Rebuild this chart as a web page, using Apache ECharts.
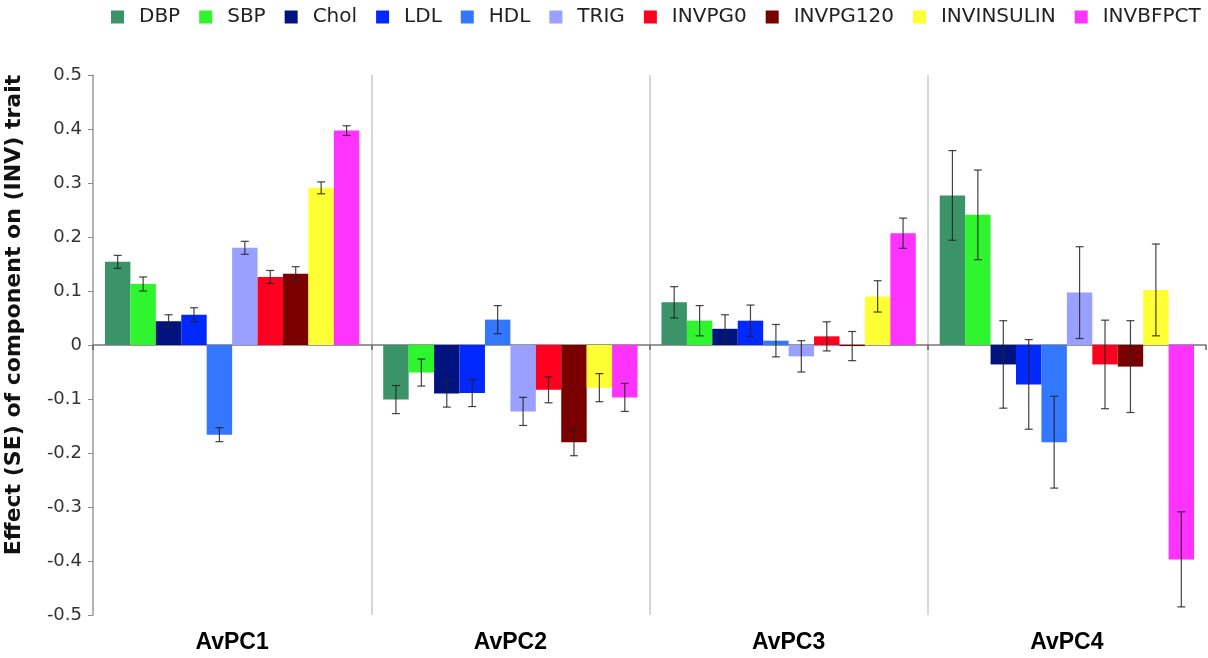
<!DOCTYPE html>
<html>
<head>
<meta charset="utf-8">
<script src="https://cdn.jsdelivr.net/npm/echarts@6/dist/echarts.min.js"></script>
<style>
  html, body { margin: 0; padding: 0; background: #fff; }
  #chart { width: 1208px; height: 658px; }
</style>
</head>
<body>
<div id="chart"></div>
<script>
// ---- data ----
const categories = ['AvPC1', 'AvPC2', 'AvPC3', 'AvPC4'];
const traits = ['DBP', 'SBP', 'Chol', 'LDL', 'HDL', 'TRIG', 'INVPG0', 'INVPG120', 'INVINSULIN', 'INVBFPCT'];

// effect per component (AvPC1..AvPC4)
const dbp        = [0.154, -0.101, 0.079, 0.277];
const sbp        = [0.113, -0.051, 0.045, 0.241];
const chol       = [0.044, -0.090, 0.030, -0.036];
const ldl        = [0.056, -0.089, 0.045, -0.073];
const hdl        = [-0.166, 0.047, 0.008, -0.180];
const trig       = [0.180, -0.123, -0.021, 0.097];
const invpg0     = [0.126, -0.083, 0.016, -0.036];
const invpg120   = [0.132, -0.180, -0.002, -0.040];
const invinsulin = [0.291, -0.079, 0.090, 0.102];
const invbfpct   = [0.397, -0.097, 0.207, -0.397];

// standard errors
const dbpSE        = [0.012, 0.026, 0.029, 0.083];
const sbpSE        = [0.013, 0.025, 0.028, 0.083];
const cholSE       = [0.012, 0.025, 0.026, 0.081];
const ldlSE        = [0.013, 0.025, 0.029, 0.083];
const hdlSE        = [0.013, 0.026, 0.030, 0.085];
const trigSE       = [0.012, 0.026, 0.029, 0.085];
const invpg0SE     = [0.012, 0.024, 0.027, 0.082];
const invpg120SE   = [0.013, 0.025, 0.027, 0.085];
const invinsulinSE = [0.011, 0.026, 0.029, 0.085];
const invbfpctSE   = [0.009, 0.026, 0.028, 0.088];

const yTicks = [-0.5, 0.5, 0.1]; // min, max, interval

// ---- styling ----
const values = [dbp, sbp, chol, ldl, hdl, trig, invpg0, invpg120, invinsulin, invbfpct];
const errors = [dbpSE, sbpSE, cholSE, ldlSE, hdlSE, trigSE, invpg0SE, invpg120SE, invinsulinSE, invbfpctSE];
const colors = ['#3a9467', '#2ef52e', '#00137f', '#0028ff', '#3377ff', '#9aa0ff', '#ff0020', '#7a0000', '#ffff33', '#ff33ff'];
const catGap = 0.086;

const series = traits.map((t, i) => ({
  name: t,
  type: 'bar',
  xAxisIndex: 0,
  yAxisIndex: 0,
  data: values[i],
  itemStyle: { color: colors[i] },
  barGap: '0%',
  barCategoryGap: (catGap * 100) + '%',
  z: 2
}));

const errData = [];
traits.forEach((t, s) => {
  categories.forEach((c, ci) => {
    const v = values[s][ci], e = errors[s][ci];
    errData.push([ci, v - e, v + e, s]);
  });
});

series.push({
  type: 'custom',
  name: 'err',
  xAxisIndex: 0,
  yAxisIndex: 0,
  data: errData,
  encode: { x: 0, y: [1, 2] },
  z: 10,
  silent: true,
  renderItem: function (params, api) {
    const ci = api.value(0), lo = api.value(1), hi = api.value(2), s = api.value(3);
    const band = api.size([1, 0])[0];
    const groupW = band * (1 - catGap);
    const barW = groupW / traits.length;
    const cx = api.coord([ci, 0])[0] - groupW / 2 + barW * (s + 0.5);
    const yLo = api.coord([ci, lo])[1];
    const yHi = api.coord([ci, hi])[1];
    const cap = 4;
    const st = { stroke: '#222', lineWidth: 1.2, opacity: 0.85 };
    return {
      type: 'group',
      children: [
        { type: 'line', shape: { x1: cx, y1: yLo, x2: cx, y2: yHi }, style: st },
        { type: 'line', shape: { x1: cx - cap, y1: yLo, x2: cx + cap, y2: yLo }, style: st },
        { type: 'line', shape: { x1: cx - cap, y1: yHi, x2: cx + cap, y2: yHi }, style: st }
      ]
    };
  }
});

const chart = echarts.init(document.getElementById('chart'), null, { renderer: 'canvas' });
chart.setOption({
  animation: false,
  backgroundColor: '#fff',
  legend: {
    data: traits,
    top: 7,
    left: 111,
    width: 1097,
    icon: 'rect',
    itemWidth: 13,
    itemHeight: 13,
    itemGap: 19,
    padding: 0,
    textStyle: { fontFamily: 'DejaVu Sans', fontSize: 20, color: '#222', padding: [0, 0, 0, 10] }
  },
  grid: { left: 93, right: 2, top: 75, bottom: 43, containLabel: false, outerBoundsMode: 'none' },
  xAxis: [
    {
      type: 'category',
      data: categories,
      position: 'bottom',
      axisLine: { show: true, onZero: true, lineStyle: { color: '#777', width: 1.5 } },
      axisTick: { show: true, length: 5, lineStyle: { color: '#666', width: 1.5 } },
      axisLabel: { show: false },
      splitLine: { show: false }
    },
    {
      type: 'category',
      data: categories,
      position: 'bottom',
      axisLine: { show: false, onZero: false },
      axisTick: { show: false },
      axisLabel: { show: true, margin: 16, fontFamily: 'Liberation Sans', fontWeight: 'bold', fontSize: 23, color: '#000' },
      splitLine: { show: true, showMinLine: false, showMaxLine: false, lineStyle: { color: '#c8c8c8', width: 1.5 } }
    }
  ],
  yAxis: {
    type: 'value',
    min: yTicks[0],
    max: yTicks[1],
    interval: yTicks[2],
    name: 'Effect (SE) of component on (INV) trait',
    nameLocation: 'middle',
    nameGap: 68,
    nameTextStyle: { fontFamily: 'DejaVu Sans', fontWeight: 'bold', fontSize: 22, color: '#111', padding: [0, 0, 0, 60] },
    axisLine: { show: true, lineStyle: { color: '#999', width: 1.5 } },
    axisTick: { show: true, length: 5, lineStyle: { color: '#888' } },
    axisLabel: {
      margin: 11,
      fontFamily: 'DejaVu Sans',
      fontSize: 18,
      color: '#333',
      formatter: v => String(Math.round(v * 10) / 10)
    },
    splitLine: { show: false }
  },
  series: series
});
</script>
</body>
</html>
